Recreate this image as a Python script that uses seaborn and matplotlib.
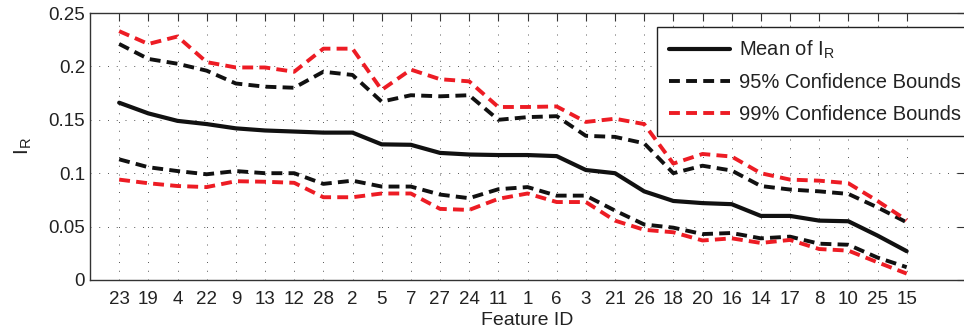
import numpy as np
import pandas as pd
import matplotlib
matplotlib.use('Agg')
import matplotlib.pyplot as plt
import seaborn as sns

# feature order (sorted by mean I_R)
FEATURES = ['23', '19', '4', '22', '9', '13', '12', '28', '2', '5', '7', '27', '24', '11',
            '1', '6', '3', '21', '26', '18', '20', '16', '14', '17', '8', '10', '25', '15']

MEAN = [0.166, 0.156, 0.149, 0.146, 0.142, 0.140, 0.139, 0.138, 0.138, 0.127, 0.1266, 0.119,
        0.1175, 0.117, 0.117, 0.116, 0.103, 0.100, 0.083, 0.074, 0.072, 0.071, 0.060, 0.060,
        0.0556, 0.055, 0.0416, 0.027]
UP95 = [0.221, 0.207, 0.2025, 0.196, 0.184, 0.181, 0.180, 0.195, 0.192, 0.167, 0.173, 0.172,
        0.173, 0.150, 0.1525, 0.1534, 0.135, 0.134, 0.128, 0.100, 0.107, 0.1025, 0.088, 0.0847,
        0.083, 0.0806, 0.068, 0.054]
LO95 = [0.113, 0.1056, 0.102, 0.099, 0.102, 0.100, 0.100, 0.090, 0.093, 0.0875, 0.0875, 0.080,
        0.0766, 0.085, 0.087, 0.079, 0.079, 0.065, 0.052, 0.049, 0.043, 0.044, 0.039, 0.0406,
        0.034, 0.033, 0.021, 0.012]
UP99 = [0.233, 0.221, 0.228, 0.204, 0.199, 0.199, 0.195, 0.2166, 0.2166, 0.178, 0.197, 0.188,
        0.186, 0.162, 0.162, 0.1625, 0.148, 0.151, 0.146, 0.109, 0.118, 0.1156, 0.100, 0.094,
        0.093, 0.0906, 0.074, 0.056]
LO99 = [0.094, 0.0906, 0.088, 0.087, 0.0925, 0.092, 0.091, 0.0775, 0.0775, 0.081, 0.081, 0.0666,
        0.0656, 0.076, 0.081, 0.073, 0.073, 0.0556, 0.047, 0.0447, 0.037, 0.039, 0.0347, 0.0375,
        0.029, 0.0275, 0.0166, 0.006]

sns.set_style('white')
plt.rcParams['font.family'] = ['Liberation Sans', 'DejaVu Sans']
plt.rcParams['mathtext.fontset'] = 'custom'
plt.rcParams['mathtext.rm'] = 'Liberation Sans'

pos = np.arange(1, len(FEATURES) + 1)
df = pd.DataFrame({'pos': pos, 'mean': MEAN, 'up95': UP95, 'lo95': LO95,
                   'up99': UP99, 'lo99': LO99})

fig = plt.figure(figsize=(9.64, 3.36), dpi=100)
# axes: left 90px, right ~965px (just past the image edge), bottom 280px, top 13px
ax = fig.add_axes([90 / 964, 56 / 336, 875 / 964, 267 / 336])

RED = '#ed1c24'
dash = (2.8, 1.6)
lw_dash = 2.8

sns.lineplot(data=df, x='pos', y='mean', ax=ax, color='#111111', lw=3.0,
             label=r'Mean of I$_\mathregular{R}$')
sns.lineplot(data=df, x='pos', y='up95', ax=ax, color='#111111', lw=lw_dash,
             label='95% Confidence Bounds')
sns.lineplot(data=df, x='pos', y='lo95', ax=ax, color='#111111', lw=lw_dash)
sns.lineplot(data=df, x='pos', y='up99', ax=ax, color=RED, lw=lw_dash,
             label='99% Confidence Bounds')
sns.lineplot(data=df, x='pos', y='lo99', ax=ax, color=RED, lw=lw_dash)
for ln in ax.lines[1:]:
    ln.set_dashes(dash)

ax.set_xlim(0, 30)
ax.set_ylim(0, 0.25)
ax.set_xticks(pos)
ax.set_xticklabels(FEATURES)
ax.set_yticks([0, 0.05, 0.1, 0.15, 0.2, 0.25])
ax.set_yticklabels(['0', '0.05', '0.1', '0.15', '0.2', '0.25'])
ax.tick_params(direction='in', length=6, width=0.8, labelsize=13.5, top=True, right=True,
               color='#333333', labelcolor='#222222')
ax.tick_params(axis='x', pad=8)
ax.grid(True, linestyle=(0, (1, 8)), color='#555555', lw=0.7)
for sp in ax.spines.values():
    sp.set_color('#333333')
    sp.set_linewidth(1.0)

ax.set_xlabel('Feature ID', fontsize=14, labelpad=3, color='#222222')
ax.set_ylabel(r'I$_\mathregular{R}$', fontsize=15, labelpad=10, color='#222222')

leg = ax.legend(loc='upper left', bbox_to_anchor=((657 - 90) / 875, (280 - 27) / 267),
                borderaxespad=0, fontsize=14.5, frameon=True, fancybox=False,
                edgecolor='#222222', framealpha=1, handlelength=3.0, handletextpad=0.45,
                borderpad=0.6, labelspacing=0.6)
leg.get_frame().set_linewidth(1.0)
for t in leg.get_texts():
    t.set_color('#222222')
for h in leg.get_lines()[1:]:
    h.set_dashes(dash)

fig.savefig('out.png', dpi=100)
